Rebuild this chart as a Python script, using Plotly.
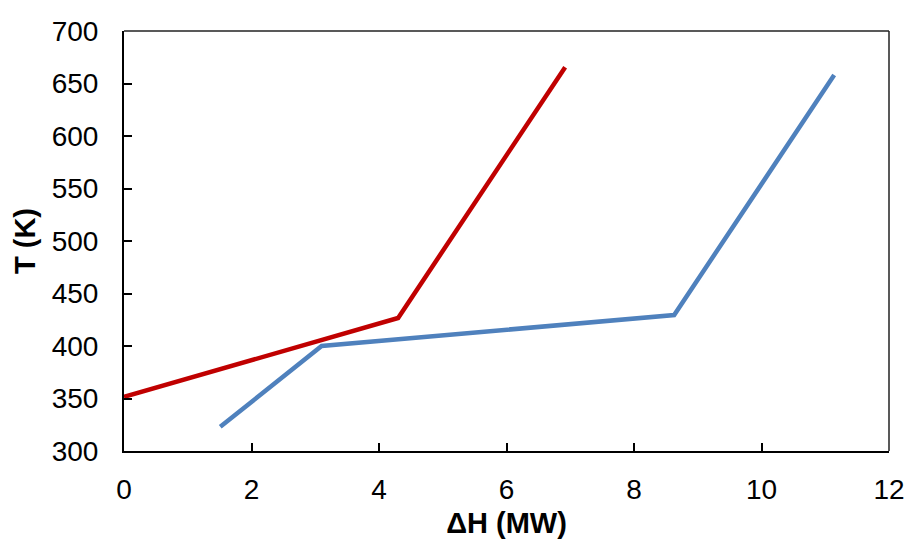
import plotly.graph_objects as go

hot_dh = [0.0, 4.30, 6.92]
hot_t = [351.5, 426.7, 665.5]
cold_dh = [1.51, 3.10, 8.63, 11.14]
cold_t = [323.0, 400.0, 429.5, 658.0]

x_ticks = [0, 2, 4, 6, 8, 10, 12]
y_ticks = [300, 350, 400, 450, 500, 550, 600, 650, 700]

fig = go.Figure()
fig.add_trace(go.Scatter(x=hot_dh, y=hot_t, mode="lines",
                         line=dict(color="#C00000", width=4.5), showlegend=False))
fig.add_trace(go.Scatter(x=cold_dh, y=cold_t, mode="lines",
                         line=dict(color="#4F81BD", width=4.5), showlegend=False))

font_fam = "Liberation Sans, Arial, sans-serif"
axis_common = dict(showgrid=False, zeroline=False, showline=True, linecolor="black",
                   linewidth=2, ticks="inside", ticklen=8, tickwidth=2, tickcolor="black",
                   automargin=False,
                   tickfont=dict(family=font_fam, size=28, color="black"))

fig.update_xaxes(range=[0, 12], tickvals=x_ticks, ticktext=[str(v) for v in x_ticks],
                 title=dict(text="<b>ΔH (MW)</b>", font=dict(family=font_fam, size=29, color="black"),
                            standoff=9),
                 ticklabelstandoff=12, **axis_common)
fig.update_yaxes(range=[300, 700], tickvals=y_ticks, ticktext=[str(v) for v in y_ticks],
                 title=dict(text="<b>T (K)</b>", font=dict(family=font_fam, size=29, color="black"),
                            standoff=8),
                 ticklabelstandoff=18, **axis_common)

fig.add_shape(type="line", xref="paper", yref="paper", x0=0, x1=1, y0=1, y1=1,
              line=dict(color="#222", width=1.5))
fig.add_shape(type="line", xref="paper", yref="paper", x0=1, x1=1, y0=0, y1=1,
              line=dict(color="#222", width=1.5))

fig.update_layout(width=909, height=542, margin=dict(l=124, r=20, t=31, b=91),
                  paper_bgcolor="white", plot_bgcolor="white",
                  font=dict(family=font_fam, color="black"))

fig.write_html("out.html")
